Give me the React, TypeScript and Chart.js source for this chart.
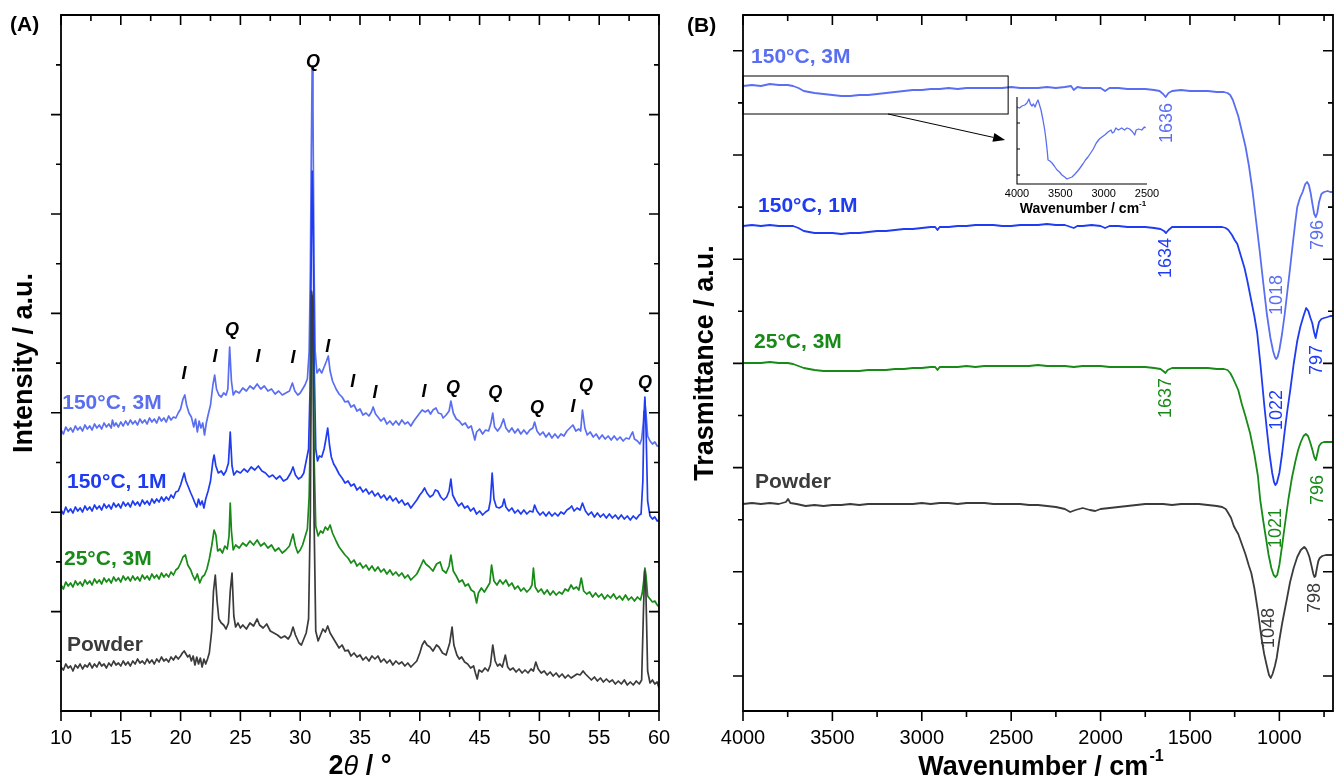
import React, { useEffect, useRef } from 'react';
import { Chart, registerables } from 'chart.js';

Chart.register(...registerables);

const FONT = "'Liberation Sans', Arial, Helvetica, sans-serif";
Chart.defaults.font.family = FONT;

const C_150_3M = '#5a6ef2';
const C_150_1M = '#1f3cf2';
const C_25_3M = '#178a17';
const C_POWDER = '#3b3b3b';

type Pt = [number, number];

// ---------------- Panel A : XRD (2θ, intensity a.u.) ----------------
const xrdXMajor = [10, 15, 20, 25, 30, 35, 40, 45, 50, 55, 60];
const xrdXMinor = [12.5, 17.5, 22.5, 27.5, 32.5, 37.5, 42.5, 47.5, 52.5, 57.5];
const xrdYStep = 49.7;

const xrdPowder: Pt[] = [
  [10.0,44],[10.2,41],[10.4,47],[10.6,43],[10.8,45],[11.0,40],[11.2,46],[11.4,43],[11.6,47],[11.8,42],[12.0,46],[12.2,44],[12.4,48],[12.6,43],[12.8,47],[13.0,44],[13.2,49],[13.4,45],[13.6,47],[13.8,43],[14.0,48],[14.2,45],[14.4,50],[14.6,46],[14.8,48],[15.0,45],[15.2,50],[15.4,46],[15.6,49],[15.8,45],[16.0,50],[16.2,47],[16.4,52],[16.6,48],[16.8,50],[17.0,47],[17.2,52],[17.4,48],[17.6,51],[17.8,47],[18.0,52],[18.2,49],[18.4,54],[18.6,50],[18.8,52],[19.0,49],[19.2,54],[19.4,51],[19.6,55],[19.8,52],[20.0,55],[20.15,58],[20.3,60],[20.45,57],[20.6,54],[20.75,56],[20.9,50],[21.05,55],[21.2,46],[21.35,54],[21.5,47],[21.65,53],[21.8,44],[21.95,52],[22.1,47],[22.25,52],[22.4,58],[22.6,80],[22.75,120],[22.9,136],[23.05,110],[23.2,92],[23.4,88],[23.6,86],[23.8,82],[24.0,88],[24.15,120],[24.3,138],[24.45,95],[24.6,84],[24.8,88],[25.0,83],[25.2,86],[25.5,82],[25.8,88],[26.1,85],[26.4,92],[26.6,86],[26.9,83],[27.2,87],[27.5,80],[27.8,78],[28.1,76],[28.4,73],[28.7,75],[29.0,72],[29.2,76],[29.4,84],[29.6,76],[29.9,68],[30.1,66],[30.3,72],[30.5,78],[30.7,92],[30.85,200],[30.95,420],[31.05,410],[31.15,200],[31.3,80],[31.5,70],[31.7,76],[31.9,82],[32.1,79],[32.3,85],[32.5,78],[32.75,73],[33.0,68],[33.25,63],[33.5,66],[33.75,60],[34.0,61],[34.25,55],[34.5,58],[34.75,54],[35.0,56],[35.25,51],[35.5,54],[35.75,50],[36.0,55],[36.25,52],[36.5,55],[36.75,49],[37.0,52],[37.25,48],[37.5,51],[37.75,46],[38.0,50],[38.25,47],[38.5,49],[38.75,45],[39.0,48],[39.25,44],[39.5,47],[39.75,50],[40.0,58],[40.2,66],[40.4,70],[40.6,66],[40.85,64],[41.1,60],[41.4,66],[41.6,64],[41.9,58],[42.2,56],[42.5,68],[42.7,84],[42.85,66],[43.1,56],[43.3,52],[43.5,54],[43.75,49],[44.0,47],[44.25,43],[44.5,45],[44.65,38],[44.8,32],[44.95,41],[45.2,39],[45.45,43],[45.7,40],[45.9,46],[46.1,66],[46.3,50],[46.5,45],[46.7,47],[46.9,44],[47.15,56],[47.35,44],[47.55,41],[47.8,43],[48.05,39],[48.3,42],[48.55,38],[48.8,41],[49.05,38],[49.3,42],[49.5,40],[49.7,49],[49.9,42],[50.15,38],[50.4,40],[50.65,36],[50.9,39],[51.15,35],[51.4,38],[51.65,34],[51.9,37],[52.15,33],[52.4,36],[52.65,33],[52.9,35],[53.15,37],[53.4,36],[53.65,40],[53.85,37],[54.1,34],[54.35,31],[54.6,34],[54.85,30],[55.1,33],[55.35,29],[55.6,32],[55.85,29],[56.1,31],[56.35,27],[56.6,30],[56.85,27],[57.1,31],[57.35,26],[57.6,29],[57.85,26],[58.1,30],[58.35,27],[58.55,31],[58.7,100],[58.8,140],[58.9,122],[59.05,40],[59.25,28],[59.45,31],[59.65,27],[59.85,29],[60.0,23],
];

const xrd25C3M: Pt[] = [
  [10.0,126],[10.2,122],[10.4,129],[10.6,125],[10.8,128],[11.0,124],[11.2,130],[11.4,126],[11.6,129],[11.8,125],[12.0,131],[12.2,127],[12.4,130],[12.6,126],[12.8,132],[13.0,128],[13.2,131],[13.4,127],[13.6,133],[13.8,129],[14.0,132],[14.2,128],[14.4,134],[14.6,130],[14.8,133],[15.0,129],[15.2,135],[15.4,131],[15.6,134],[15.8,130],[16.0,135],[16.2,131],[16.4,134],[16.6,130],[16.8,136],[17.0,132],[17.2,135],[17.4,131],[17.6,137],[17.8,133],[18.0,136],[18.2,132],[18.4,138],[18.6,134],[18.8,137],[19.0,134],[19.2,139],[19.4,136],[19.6,141],[19.8,143],[20.0,148],[20.2,154],[20.4,156],[20.6,146],[20.85,141],[21.0,136],[21.2,131],[21.4,137],[21.6,128],[21.8,134],[22.0,136],[22.2,142],[22.4,152],[22.6,165],[22.8,181],[22.95,176],[23.1,160],[23.3,162],[23.5,158],[23.7,165],[23.9,162],[24.05,175],[24.15,208],[24.25,180],[24.4,161],[24.6,166],[24.9,163],[25.2,168],[25.5,165],[25.8,170],[26.1,166],[26.4,171],[26.7,165],[27.0,168],[27.3,163],[27.6,166],[27.9,160],[28.2,163],[28.5,158],[28.8,161],[29.1,165],[29.4,177],[29.6,165],[29.8,158],[30.0,161],[30.2,166],[30.4,174],[30.6,182],[30.75,215],[30.88,300],[30.97,400],[31.07,390],[31.17,250],[31.3,185],[31.5,175],[31.7,180],[31.9,178],[32.1,184],[32.3,181],[32.5,186],[32.7,178],[32.85,174],[33.0,170],[33.25,164],[33.5,160],[33.75,156],[34.0,153],[34.25,148],[34.5,151],[34.75,145],[35.0,148],[35.25,143],[35.5,146],[35.75,141],[36.0,145],[36.25,140],[36.5,144],[36.75,139],[37.0,142],[37.25,137],[37.5,141],[37.75,136],[38.0,139],[38.25,135],[38.5,138],[38.75,133],[39.0,136],[39.25,131],[39.5,134],[39.75,137],[40.0,143],[40.3,151],[40.5,147],[40.8,144],[41.1,140],[41.4,147],[41.7,149],[41.9,141],[42.2,138],[42.45,145],[42.6,156],[42.8,140],[43.05,135],[43.3,129],[43.55,131],[43.8,125],[44.05,127],[44.3,121],[44.55,119],[44.75,108],[44.9,118],[45.15,123],[45.4,119],[45.65,124],[45.85,128],[46.0,146],[46.2,130],[46.45,126],[46.7,131],[46.95,127],[47.2,131],[47.45,125],[47.7,128],[47.95,122],[48.2,125],[48.45,120],[48.7,123],[48.95,119],[49.2,122],[49.38,126],[49.5,143],[49.65,124],[49.9,119],[50.15,122],[50.4,117],[50.65,121],[50.9,116],[51.15,120],[51.4,116],[51.65,119],[51.9,117],[52.15,122],[52.4,120],[52.65,126],[52.85,122],[53.1,124],[53.3,121],[53.5,133],[53.7,120],[53.95,117],[54.2,119],[54.45,114],[54.7,118],[54.95,114],[55.2,117],[55.45,112],[55.7,116],[55.95,113],[56.2,117],[56.45,112],[56.7,115],[56.95,111],[57.2,116],[57.45,111],[57.7,114],[57.95,110],[58.2,114],[58.45,111],[58.6,118],[58.72,130],[58.82,143],[58.92,135],[59.05,115],[59.25,112],[59.45,109],[59.65,110],[59.85,106],[60.0,104],
];

const xrd150C1M: Pt[] = [
  [10.0,201],[10.2,197],[10.4,204],[10.6,199],[10.8,202],[11.0,198],[11.2,204],[11.4,200],[11.6,203],[11.8,199],[12.0,205],[12.2,201],[12.4,204],[12.6,200],[12.8,206],[13.0,202],[13.2,205],[13.4,201],[13.6,207],[13.8,203],[14.0,206],[14.2,202],[14.4,208],[14.6,204],[14.8,207],[15.0,203],[15.2,209],[15.4,205],[15.6,208],[15.8,204],[16.0,210],[16.2,206],[16.4,209],[16.6,205],[16.8,211],[17.0,207],[17.2,210],[17.4,206],[17.6,212],[17.8,208],[18.0,212],[18.2,209],[18.4,214],[18.6,210],[18.8,214],[19.0,211],[19.2,216],[19.4,213],[19.6,219],[19.8,220],[20.0,226],[20.15,232],[20.3,238],[20.45,230],[20.65,224],[20.85,218],[21.0,214],[21.2,208],[21.35,204],[21.5,212],[21.65,206],[21.8,210],[21.95,203],[22.1,212],[22.3,220],[22.5,230],[22.7,250],[22.8,256],[22.95,245],[23.15,238],[23.4,240],[23.6,236],[23.8,240],[24.0,248],[24.15,279],[24.3,245],[24.45,236],[24.7,240],[25.0,238],[25.3,242],[25.6,239],[25.9,244],[26.2,241],[26.5,245],[26.8,240],[27.1,238],[27.4,234],[27.7,236],[28.0,232],[28.3,235],[28.6,230],[28.9,232],[29.2,238],[29.4,244],[29.6,236],[29.85,232],[30.1,234],[30.3,238],[30.5,250],[30.7,262],[30.82,320],[30.92,450],[31.0,540],[31.08,500],[31.18,340],[31.3,262],[31.45,250],[31.6,255],[31.8,254],[32.0,262],[32.15,272],[32.3,283],[32.45,266],[32.6,254],[32.8,247],[33.0,243],[33.25,237],[33.5,233],[33.75,228],[34.0,230],[34.25,225],[34.5,227],[34.75,221],[35.0,224],[35.25,219],[35.5,222],[35.75,217],[36.0,220],[36.25,215],[36.5,218],[36.75,213],[37.0,216],[37.25,211],[37.5,215],[37.75,210],[38.0,213],[38.25,208],[38.5,211],[38.75,206],[39.0,208],[39.25,203],[39.5,207],[39.75,211],[40.0,216],[40.2,219],[40.4,223],[40.6,218],[40.85,214],[41.1,216],[41.3,221],[41.5,220],[41.75,214],[42.0,211],[42.25,214],[42.45,220],[42.6,232],[42.75,216],[43.0,210],[43.25,205],[43.5,208],[43.75,203],[44.0,205],[44.25,200],[44.5,203],[44.75,197],[45.0,200],[45.25,196],[45.5,199],[45.75,201],[45.9,210],[46.05,238],[46.2,212],[46.4,204],[46.65,203],[46.9,205],[47.05,212],[47.2,204],[47.45,200],[47.7,203],[47.95,198],[48.2,201],[48.45,197],[48.7,201],[48.95,197],[49.2,200],[49.45,199],[49.6,206],[49.8,200],[50.05,196],[50.3,199],[50.55,195],[50.8,199],[51.05,195],[51.3,198],[51.55,195],[51.8,199],[52.05,197],[52.3,201],[52.55,203],[52.7,205],[52.9,200],[53.15,203],[53.4,201],[53.6,208],[53.85,200],[54.1,196],[54.35,199],[54.6,194],[54.85,198],[55.1,194],[55.35,197],[55.6,193],[55.85,197],[56.1,193],[56.35,196],[56.6,192],[56.85,196],[57.1,192],[57.35,195],[57.6,191],[57.85,195],[58.1,192],[58.35,196],[58.5,197],[58.65,230],[58.75,300],[58.82,314],[58.92,280],[59.05,210],[59.25,195],[59.45,192],[59.65,194],[59.85,190],[60.0,191],
];

const xrd150C3M: Pt[] = [
  [10.0,281],[10.2,277],[10.4,284],[10.6,280],[10.8,283],[11.0,279],[11.2,285],[11.4,281],[11.6,284],[11.8,280],[12.0,286],[12.2,282],[12.4,285],[12.6,281],[12.8,287],[13.0,283],[13.2,286],[13.4,282],[13.6,288],[13.8,284],[14.0,287],[14.2,283],[14.3,291],[14.45,285],[14.6,288],[14.8,284],[15.0,289],[15.2,285],[15.4,290],[15.6,286],[15.8,291],[16.0,287],[16.2,290],[16.4,286],[16.6,292],[16.8,288],[17.0,291],[17.2,287],[17.4,293],[17.6,289],[17.8,292],[18.0,288],[18.2,294],[18.4,290],[18.6,293],[18.8,289],[19.0,295],[19.2,291],[19.4,294],[19.6,293],[19.8,298],[20.0,302],[20.2,312],[20.35,316],[20.5,306],[20.7,298],[20.9,294],[21.1,284],[21.25,292],[21.4,279],[21.55,290],[21.7,283],[21.85,288],[22.0,276],[22.15,288],[22.3,296],[22.5,306],[22.7,326],[22.85,336],[23.0,322],[23.2,316],[23.4,314],[23.6,318],[23.8,316],[23.95,322],[24.1,364],[24.25,330],[24.4,316],[24.6,320],[24.9,318],[25.2,323],[25.5,320],[25.8,325],[26.1,322],[26.4,327],[26.7,322],[27.0,325],[27.3,320],[27.6,322],[27.9,317],[28.2,320],[28.5,316],[28.8,318],[29.1,320],[29.35,328],[29.55,320],[29.8,316],[30.0,318],[30.2,322],[30.4,326],[30.6,332],[30.75,360],[30.85,440],[30.93,560],[31.0,643],[31.07,600],[31.15,450],[31.25,360],[31.4,338],[31.6,342],[31.8,338],[32.0,344],[32.2,350],[32.35,355],[32.5,340],[32.7,330],[32.85,326],[33.0,322],[33.25,317],[33.5,314],[33.75,309],[34.0,310],[34.25,304],[34.5,306],[34.75,300],[35.0,302],[35.25,296],[35.5,298],[35.75,295],[35.95,299],[36.1,304],[36.3,297],[36.5,294],[36.75,290],[37.0,293],[37.25,287],[37.5,290],[37.75,286],[38.0,290],[38.25,286],[38.5,291],[38.75,287],[39.0,289],[39.25,285],[39.5,290],[39.75,294],[40.0,298],[40.2,301],[40.45,299],[40.7,301],[40.9,297],[41.1,301],[41.35,303],[41.55,298],[41.8,297],[41.95,293],[42.2,296],[42.45,300],[42.6,310],[42.8,298],[43.05,292],[43.3,290],[43.55,286],[43.8,288],[44.05,283],[44.3,285],[44.5,276],[44.6,271],[44.75,279],[45.0,282],[45.25,277],[45.5,281],[45.75,280],[45.95,288],[46.1,298],[46.25,284],[46.5,280],[46.75,284],[47.0,292],[47.2,283],[47.45,279],[47.7,283],[47.95,278],[48.2,282],[48.45,277],[48.7,281],[48.95,277],[49.2,281],[49.45,283],[49.6,289],[49.8,280],[50.05,276],[50.3,279],[50.55,274],[50.8,278],[51.05,273],[51.3,277],[51.55,273],[51.8,277],[52.05,275],[52.3,280],[52.55,283],[52.8,286],[53.05,280],[53.3,282],[53.45,280],[53.6,301],[53.8,283],[54.0,276],[54.25,279],[54.5,274],[54.75,277],[55.0,272],[55.25,276],[55.5,272],[55.75,275],[56.0,271],[56.25,275],[56.5,271],[56.75,274],[57.0,270],[57.25,273],[57.5,272],[57.7,277],[57.8,279],[57.95,272],[58.2,270],[58.4,267],[58.55,272],[58.7,290],[58.8,311],[58.9,300],[59.05,275],[59.25,270],[59.45,267],[59.65,269],[59.85,265],[60.0,265],
];

// phase marks: [text, 2θ, intensity]
const xrdPhaseMarks: [string, number, number][] = [
  ['Q', 31.07, 649], ['I', 20.28, 337], ['I', 22.88, 354], ['Q', 24.3, 381], ['I', 26.47, 354],
  ['I', 29.4, 353], ['I', 32.3, 364], ['I', 34.4, 329], ['I', 36.25, 318], ['I', 40.35, 319],
  ['Q', 42.78, 323], ['Q', 46.3, 318], ['Q', 49.8, 303], ['I', 52.8, 304], ['Q', 53.9, 325], ['Q', 58.83, 328],
];
const xrdSeriesNames = ['150°C, 3M', '150°C, 1M', '25°C, 3M', 'Powder'];
const xrdNameAnchors: Pt[] = [[10.1, 308], [10.5, 229], [10.25, 152], [10.5, 66]];

// ---------------- Panel B : FTIR (wavenumber, transmittance a.u.) ----------------
const ftirXMajor = [4000, 3500, 3000, 2500, 2000, 1500, 1000];
const ftirXMinor = [3750, 3250, 2750, 2250, 1750, 1250, 750];
const ftirYStep = 52.1;

const ftir150C3M: Pt[] = [
  [4000,590],[3950,591],[3900,590],[3850,592],[3800,591],[3750,591],[3720,590],[3690,588],[3660,585],[3630,584],[3600,583],[3550,582],[3500,581],[3450,580],[3400,580],[3350,581],[3300,581],[3250,582],[3200,583],[3150,584],[3100,585],[3050,586],[3000,586],[2950,587],[2900,587],[2850,588],[2800,587],[2750,588],[2700,588],[2650,588],[2600,588],[2550,588],[2500,589],[2450,588],[2400,588],[2350,588],[2300,589],[2250,588],[2200,589],[2165,590],[2150,586],[2130,589],[2100,588],[2050,588],[2000,588],[1975,585],[1950,588],[1900,588],[1850,587],[1800,587],[1750,587],[1700,586],[1670,585],[1650,582],[1636,579],[1620,583],[1600,585],[1550,586],[1500,585],[1450,585],[1400,585],[1350,584],[1310,584],[1290,583],[1275,581],[1260,576],[1245,568],[1230,560],[1210,545],[1190,530],[1170,510],[1150,485],[1130,455],[1110,425],[1090,393],[1070,362],[1050,338],[1035,325],[1025,319],[1018,317],[1010,319],[1000,326],[985,342],[970,362],[955,385],[940,408],[925,432],[910,455],[900,469],[885,478],[870,484],[855,492],[845,494],[835,491],[825,483],[815,472],[805,462],[796,459],[788,463],[778,474],[765,482],[750,484],[730,485],[715,484],[700,484],
];

const ftir150C1M: Pt[] = [
  [4000,450],[3950,451],[3900,450],[3850,451],[3800,450],[3750,450],[3720,450],[3690,448],[3660,445],[3630,444],[3600,443],[3550,443],[3500,443],[3450,442],[3400,443],[3350,443],[3300,444],[3250,445],[3200,445],[3150,446],[3100,447],[3050,447],[3000,448],[2950,449],[2925,449],[2912,446],[2900,449],[2850,449],[2800,450],[2750,450],[2700,451],[2650,451],[2600,451],[2550,450],[2500,450],[2450,451],[2400,451],[2350,451],[2300,452],[2250,451],[2200,451],[2150,448],[2130,450],[2100,450],[2050,451],[2000,450],[1975,448],[1950,450],[1900,450],[1850,449],[1800,449],[1750,449],[1700,448],[1665,447],[1645,445],[1634,443],[1620,446],[1600,449],[1550,449],[1500,449],[1450,449],[1400,449],[1350,449],[1320,449],[1300,448],[1285,446],[1265,441],[1250,436],[1235,432],[1215,420],[1195,408],[1180,396],[1160,378],[1140,360],[1124,343],[1105,310],[1085,272],[1068,243],[1055,222],[1040,203],[1030,194],[1022,191],[1014,193],[1000,203],[985,222],[970,245],[955,266],[939,286],[920,312],[900,335],[883,349],[865,360],[850,368],[838,365],[826,358],[816,353],[806,344],[797,338],[788,346],[778,354],[765,357],[750,358],[730,359],[715,360],[700,360],
];

const ftir25C3M: Pt[] = [
  [4000,313],[3950,313],[3900,313],[3850,314],[3800,313],[3750,313],[3720,312],[3690,310],[3660,308],[3630,307],[3600,306],[3550,305],[3500,305],[3450,305],[3400,305],[3350,305],[3300,306],[3250,306],[3200,306],[3150,307],[3100,307],[3050,308],[3000,308],[2950,309],[2925,309],[2912,306],[2900,309],[2850,309],[2800,309],[2750,310],[2700,309],[2650,310],[2600,310],[2550,310],[2500,310],[2450,310],[2400,310],[2350,311],[2300,310],[2250,310],[2200,310],[2150,309],[2100,310],[2050,310],[2000,310],[1950,309],[1900,309],[1850,309],[1800,309],[1750,309],[1700,308],[1665,307],[1650,305],[1637,303],[1625,306],[1600,308],[1550,308],[1500,308],[1450,308],[1400,308],[1350,307],[1310,307],[1290,306],[1275,303],[1260,298],[1245,292],[1230,286],[1210,272],[1190,260],[1164,243],[1140,222],[1120,200],[1107,176],[1090,155],[1075,138],[1060,121],[1045,108],[1032,101],[1021,99],[1012,101],[1000,111],[985,130],[970,150],[950,176],[930,198],[910,215],[895,226],[880,234],[865,240],[852,242],[840,240],[828,234],[815,226],[805,219],[796,216],[788,222],[778,230],[765,233],[750,234],[730,234],[700,234],
];

const ftirPowder: Pt[] = [
  [4000,172],[3950,173],[3900,172],[3850,173],[3800,172],[3760,174],[3748,177],[3735,173],[3700,172],[3650,170],[3600,171],[3550,170],[3500,171],[3450,171],[3400,172],[3350,171],[3300,172],[3250,172],[3200,172],[3150,172],[3100,172],[3050,172],[3000,173],[2950,172],[2900,173],[2850,173],[2800,172],[2750,173],[2700,173],[2650,173],[2600,172],[2550,172],[2500,172],[2450,172],[2400,171],[2350,171],[2300,170],[2250,169],[2200,167],[2170,164],[2140,166],[2100,168],[2060,166],[2030,165],[2000,167],[1950,168],[1900,169],[1850,170],[1800,171],[1750,172],[1700,172],[1650,172],[1600,171],[1550,172],[1500,172],[1450,172],[1400,171],[1350,170],[1320,169],[1300,167],[1286,163],[1270,158],[1255,150],[1240,145],[1230,142],[1210,132],[1190,122],[1170,110],[1157,103],[1140,88],[1120,65],[1100,38],[1085,22],[1070,10],[1058,1],[1048,-2],[1038,2],[1025,10],[1015,18],[1000,36],[985,52],[970,66],[959,76],[940,94],[920,108],[900,119],[880,126],[861,129],[850,127],[840,123],[832,119],[820,110],[810,102],[804,99],[798,100],[790,108],[782,115],[774,118],[760,120],[740,121],[720,121],[700,121],
];

const ftirSeriesNames = ['150°C, 3M', '150°C, 1M', '25°C, 3M', 'Powder'];
const ftirNameAnchors: Pt[] = [[3955, 619], [3916, 470], [3938, 334], [3933, 194]];
// peak labels: [text, wavenumber, transmittance, series index]
const ftirPeakLabels: [string, number, number, number][] = [
  ['1636', 1627, 553, 0], ['1634', 1633, 418, 1], ['1637', 1633, 278, 2],
  ['1018', 1012, 381, 0], ['1022', 1012, 266, 1], ['1021', 1017, 148, 2], ['1048', 1057, 48, 3],
  ['796', 782, 441, 0], ['797', 788, 316, 1], ['796', 782, 186, 2], ['798', 799, 78, 3],
];
const insetBox = { wFrom: 4000, wTo: 2517, vLow: 562, vHigh: 600 };
const insetArrow = { from: [3189, 562] as Pt, to: [2534, 536] as Pt };

// ---------------- Inset : O–H region of 150°C, 3M ----------------
const insetXTicks = [4000, 3500, 3000, 2500];
const insetYTicks = [9, 35, 61];
const insetOH: Pt[] = [
  [4000,77],[3970,76],[3942,78],[3910,79],[3885,81],[3862,85],[3845,80],[3827,78],[3810,80],[3792,77],[3775,81],[3758,84],[3740,79],[3723,74],[3700,64],[3680,54],[3665,44],[3650,32],[3642,24],[3620,23],[3596,21],[3570,18],[3538,14],[3510,12],[3481,9],[3450,7],[3423,5],[3395,6],[3365,7],[3330,10],[3300,13],[3273,16],[3240,20],[3210,24],[3181,27],[3150,31],[3120,35],[3085,41],[3050,45],[3020,47],[2988,49],[2950,52],[2915,54],[2900,51],[2881,52],[2860,56],[2830,54],[2792,56],[2760,54],[2730,56],[2700,55],[2688,54],[2665,52],[2642,49],[2625,54],[2596,55],[2560,54],[2530,57],[2515,56],
];

// ---------------- helpers ----------------
function lineDs(pts: Pt[], color: string, width: number, order: number) {
  return {
    data: pts.map(([x, y]) => ({ x, y })),
    borderColor: color,
    borderWidth: width,
    pointRadius: 0,
    tension: 0,
    fill: false,
    order,
    borderJoinStyle: 'round',
  };
}

function text(ctx: CanvasRenderingContext2D, t: string, x: number, y: number, font: string, color: string, align: CanvasTextAlign = 'left', rot = 0) {
  ctx.save();
  ctx.font = font;
  ctx.fillStyle = color;
  ctx.textAlign = align;
  ctx.textBaseline = 'middle';
  ctx.translate(x, y);
  if (rot) ctx.rotate(rot);
  ctx.fillText(t, 0, 0);
  ctx.restore();
}

function framePlugin(xMajor: number[], xMinor: number[], yMajor: number[], yMinor: number[]) {
  return {
    id: 'frameTicks',
    afterDraw(chart: any) {
      const { ctx, chartArea: ca, scales } = chart;
      const xs = scales.x;
      const ys = scales.y;
      ctx.save();
      ctx.strokeStyle = '#000';
      ctx.lineWidth = 1.8;
      ctx.lineCap = 'butt';
      ctx.beginPath();
      ctx.rect(ca.left, ca.top, ca.right - ca.left, ca.bottom - ca.top);
      ctx.stroke();
      ctx.lineWidth = 1.6;
      ctx.beginPath();
      const xt = (v: number, len: number) => {
        const p = xs.getPixelForValue(v);
        ctx.moveTo(p, ca.bottom); ctx.lineTo(p, ca.bottom + len);
        ctx.moveTo(p, ca.top); ctx.lineTo(p, ca.top + len);
      };
      const yt = (v: number, len: number) => {
        const p = ys.getPixelForValue(v);
        ctx.moveTo(ca.left - len, p); ctx.lineTo(ca.left, p);
        ctx.moveTo(ca.right, p); ctx.lineTo(ca.right - len, p);
      };
      xMajor.forEach((v) => xt(v, 10));
      xMinor.forEach((v) => xt(v, 6));
      yMajor.forEach((v) => yt(v, 10));
      yMinor.forEach((v) => yt(v, 5));
      ctx.stroke();
      ctx.restore();
    },
  };
}

const baseOptions = {
  animation: false,
  responsive: false,
  maintainAspectRatio: false,
  devicePixelRatio: 1,
  events: [],
  plugins: { legend: { display: false }, tooltip: { enabled: false } },
};

function xAxis(min: number, max: number, ticks: number[], height: number, size: number, padding: number, reverse = false) {
  return {
    type: 'linear',
    min,
    max,
    reverse,
    afterBuildTicks: (s: any) => { s.ticks = ticks.map((value) => ({ value })); },
    afterFit: (s: any) => { s.height = height; s.paddingLeft = 0; s.paddingRight = 0; },
    grid: { display: false, drawTicks: false },
    border: { display: false },
    ticks: { font: { family: FONT, size }, color: '#000', padding, maxRotation: 0, autoSkip: false, callback: (v: any) => String(v) },
  };
}

function drawMixed(ctx: CanvasRenderingContext2D, parts: [string, string, number][], cx: number, y: number) {
  let w = 0;
  parts.forEach(([s, f]) => { ctx.font = f; w += ctx.measureText(s).width; });
  let px = cx - w / 2;
  parts.forEach(([s, f, dy]) => { text(ctx, s, px, y + dy, f, '#000'); ctx.font = f; px += ctx.measureText(s).width; });
}

// ---------------- configs ----------------
function xrdConfig(): any {
  const yMajor: number[] = [];
  const yMinor: number[] = [];
  for (let k = 1; k <= 13; k++) (k % 2 === 0 ? yMajor : yMinor).push(k * xrdYStep);
  const colors = [C_150_3M, C_150_1M, C_25_3M, C_POWDER];
  return {
    type: 'line',
    data: {
      datasets: [
        lineDs(xrdPowder, C_POWDER, 1.7, 0),
        lineDs(xrd25C3M, C_25_3M, 1.7, 1),
        lineDs(xrd150C1M, C_150_1M, 1.7, 2),
        lineDs(xrd150C3M, C_150_3M, 1.7, 3),
      ],
    },
    options: {
      ...baseOptions,
      layout: { padding: { left: 0, top: 15, right: 31, bottom: 0 } },
      scales: {
        x: xAxis(10, 60, xrdXMajor, 72, 20, 15),
        y: {
          type: 'linear', min: 0, max: 696,
          afterFit: (s: any) => { s.width = 61; },
          grid: { display: false, drawTicks: false }, border: { display: false }, ticks: { display: false },
          title: { display: true, text: 'Intensity / a.u.', color: '#000', font: { family: FONT, size: 27, weight: 'bold' }, padding: { top: 8, bottom: 0 } },
        },
      },
    },
    plugins: [
      framePlugin(xrdXMajor, xrdXMinor, yMajor, yMinor),
      {
        id: 'xrdText',
        afterDraw(chart: any) {
          const { ctx, chartArea: ca, scales: { x, y } } = chart;
          xrdPhaseMarks.forEach(([t, a, b]) => text(ctx, t, x.getPixelForValue(a), y.getPixelForValue(b), `italic bold 18px ${FONT}`, '#000', 'center'));
          xrdSeriesNames.forEach((n, i) => {
            const [a, b] = xrdNameAnchors[i];
            text(ctx, n, x.getPixelForValue(a), y.getPixelForValue(b), `bold 21px ${FONT}`, colors[i]);
          });
          text(ctx, '(A)', 10, 25, `bold 21px ${FONT}`, '#000');
          drawMixed(ctx, [['2', `bold 27px ${FONT}`, 0], ['θ', `italic 27px ${FONT}`, 0], [' / °', `bold 27px ${FONT}`, 0]], (ca.left + ca.right) / 2, ca.bottom + 56);
        },
      },
    ],
  };
}

function ftirConfig(): any {
  const yMajor: number[] = [];
  const yMinor: number[] = [];
  for (let k = 0; k <= 12; k++) (k % 2 === 0 ? yMajor : yMinor).push(k * ftirYStep);
  const colors = [C_150_3M, C_150_1M, C_25_3M, C_POWDER];
  return {
    type: 'line',
    data: {
      datasets: [
        lineDs(ftirPowder, C_POWDER, 1.8, 0),
        lineDs(ftir25C3M, C_25_3M, 1.8, 1),
        lineDs(ftir150C1M, C_150_1M, 1.8, 2),
        lineDs(ftir150C3M, C_150_3M, 1.8, 3),
      ],
    },
    options: {
      ...baseOptions,
      layout: { padding: { left: 0, top: 15, right: 1, bottom: 0 } },
      scales: {
        x: xAxis(700, 4000, ftirXMajor, 72, 20, 15, true),
        y: {
          type: 'linear', min: -35, max: 661,
          afterFit: (s: any) => { s.width = 76; },
          grid: { display: false, drawTicks: false }, border: { display: false }, ticks: { display: false },
          title: { display: true, text: 'Trasmittance / a.u.', color: '#000', font: { family: FONT, size: 27, weight: 'bold' }, padding: { top: 22, bottom: 0 } },
        },
      },
    },
    plugins: [
      framePlugin(ftirXMajor, ftirXMinor, yMajor, yMinor),
      {
        id: 'ftirText',
        afterDraw(chart: any) {
          const { ctx, chartArea: ca, scales: { x, y } } = chart;
          ftirSeriesNames.forEach((n, i) => {
            const [a, b] = ftirNameAnchors[i];
            text(ctx, n, x.getPixelForValue(a), y.getPixelForValue(b), `bold 21px ${FONT}`, colors[i]);
          });
          ftirPeakLabels.forEach(([t, a, b, si]) => text(ctx, t, x.getPixelForValue(a), y.getPixelForValue(b), `18px ${FONT}`, colors[si], 'center', -Math.PI / 2));
          // inset box + arrow
          ctx.save();
          ctx.strokeStyle = '#000';
          ctx.fillStyle = '#000';
          ctx.lineWidth = 1;
          const bx0 = x.getPixelForValue(insetBox.wFrom);
          const bx1 = x.getPixelForValue(insetBox.wTo);
          const by0 = y.getPixelForValue(insetBox.vHigh);
          const by1 = y.getPixelForValue(insetBox.vLow);
          ctx.strokeRect(bx0, by0, bx1 - bx0, by1 - by0);
          const ax0 = x.getPixelForValue(insetArrow.from[0]);
          const ay0 = y.getPixelForValue(insetArrow.from[1]);
          const ax1 = x.getPixelForValue(insetArrow.to[0]);
          const ay1 = y.getPixelForValue(insetArrow.to[1]);
          const ang = Math.atan2(ay1 - ay0, ax1 - ax0);
          const hl = 12, hw = 4.5;
          const bxh = ax1 - hl * Math.cos(ang), byh = ay1 - hl * Math.sin(ang);
          ctx.beginPath(); ctx.moveTo(ax0, ay0); ctx.lineTo(bxh, byh); ctx.stroke();
          ctx.beginPath();
          ctx.moveTo(ax1, ay1);
          ctx.lineTo(bxh + hw * Math.sin(ang), byh - hw * Math.cos(ang));
          ctx.lineTo(bxh - hw * Math.sin(ang), byh + hw * Math.cos(ang));
          ctx.closePath(); ctx.fill();
          ctx.restore();
          text(ctx, '(B)', 20, 26, `bold 21px ${FONT}`, '#000');
          drawMixed(ctx, [['Wavenumber / cm', `bold 27px ${FONT}`, 0], [' ', `bold 4px ${FONT}`, 0], ['-1', `bold 16px ${FONT}`, -11]], (ca.left + ca.right) / 2 + 3, ca.bottom + 57);
        },
      },
    ],
  };
}

function insetConfig(): any {
  return {
    type: 'line',
    data: { datasets: [lineDs(insetOH, C_150_3M, 1.3, 0)] },
    options: {
      ...baseOptions,
      layout: { padding: { left: 27, top: 9, right: 28, bottom: 0 } },
      scales: {
        x: xAxis(2500, 4000, insetXTicks, 39, 11, 3, true),
        y: { type: 'linear', min: 0, max: 87, display: false },
      },
    },
    plugins: [
      {
        id: 'insetAxes',
        afterDraw(chart: any) {
          const { ctx, chartArea: ca, scales: { y } } = chart;
          ctx.save();
          ctx.strokeStyle = '#000';
          ctx.lineWidth = 1.1;
          ctx.beginPath();
          ctx.moveTo(ca.left, ca.top); ctx.lineTo(ca.left, ca.bottom); ctx.lineTo(ca.right, ca.bottom);
          insetYTicks.forEach((v) => { const p = y.getPixelForValue(v); ctx.moveTo(ca.left, p); ctx.lineTo(ca.left + 3, p); });
          ctx.stroke();
          ctx.restore();
          drawMixed(ctx, [['Wavenumber / cm', `bold 14px ${FONT}`, 0], ['-1', `bold 8px ${FONT}`, -5]], (ca.left + ca.right) / 2 + 1, ca.bottom + 25);
        },
      },
    ],
  };
}

function ChartCanvas({ make, left, top, width, height, z = 1 }: { make: () => any; left: number; top: number; width: number; height: number; z?: number }) {
  const ref = useRef<HTMLCanvasElement | null>(null);
  useEffect(() => {
    if (!ref.current) return;
    const chart = new Chart(ref.current, make());
    return () => chart.destroy();
  }, []);
  return (
    <canvas
      ref={ref}
      width={width}
      height={height}
      style={{ position: 'absolute', left, top, width, height, zIndex: z }}
    />
  );
}

export default function App() {
  return (
    <div style={{ position: 'fixed', left: 0, top: 0, width: 1334, height: 783, background: '#fff', overflow: 'hidden' }}>
      <ChartCanvas make={xrdConfig} left={0} top={0} width={690} height={783} />
      <ChartCanvas make={ftirConfig} left={667} top={0} width={667} height={783} z={2} />
      <ChartCanvas make={insetConfig} left={990} top={88} width={185} height={135} z={3} />
    </div>
  );
}
